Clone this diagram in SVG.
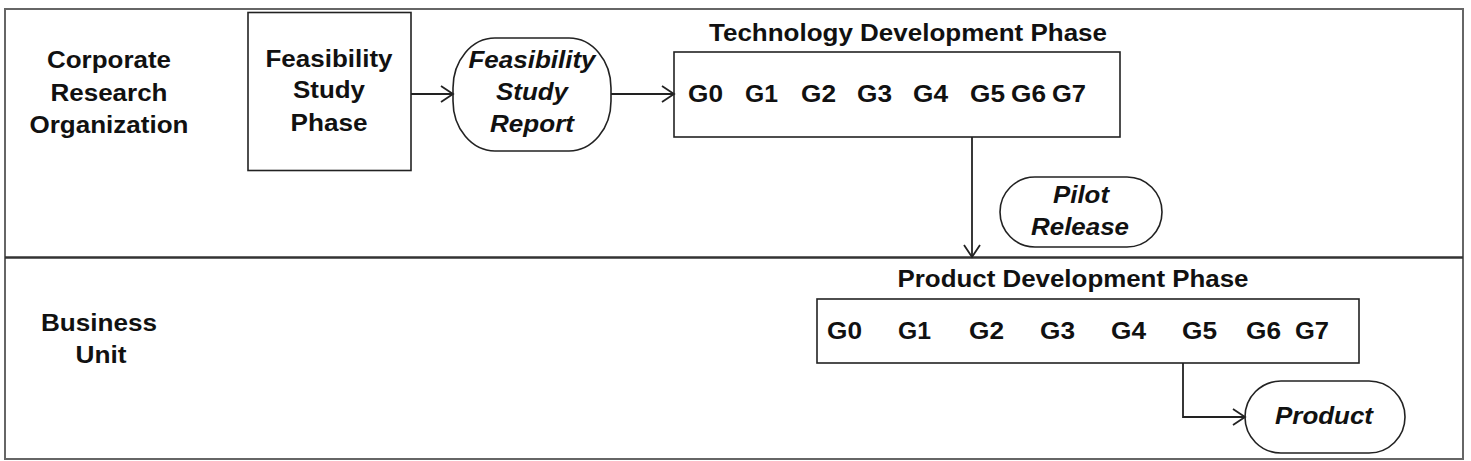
<svg xmlns="http://www.w3.org/2000/svg" width="1471" height="461" viewBox="0 0 1471 461">
<style>
.t{font-family:"Liberation Sans",Arial,sans-serif;font-weight:bold;font-size:23px;fill:#111;}
.i{font-style:italic;}
.box{fill:#fff;stroke:#222;stroke-width:1.6;}
.conn{fill:none;stroke:#222;stroke-width:1.8;}
</style>
<defs>
<marker id="arr" markerWidth="16" markerHeight="18" refX="14" refY="9" orient="auto" markerUnits="userSpaceOnUse">
<path d="M2,1 L14,9 L2,17" fill="none" stroke="#222" stroke-width="1.8"/>
</marker>
</defs>
<rect x="0" y="0" width="1471" height="461" fill="#fff"/>
<g id="lanes">
<rect x="5" y="9" width="1458" height="450" fill="none" stroke="#666" stroke-width="2"/>
<line x1="5" y1="257.5" x2="1463" y2="257.5" stroke="#333" stroke-width="2.5"/>
</g>
<g id="lane-corporate">
<text class="t" x="109" y="68" text-anchor="middle" textLength="124" lengthAdjust="spacingAndGlyphs">Corporate</text>
<text class="t" x="109" y="101" text-anchor="middle" textLength="117" lengthAdjust="spacingAndGlyphs">Research</text>
<text class="t" x="109" y="133" text-anchor="middle" textLength="159" lengthAdjust="spacingAndGlyphs">Organization</text>
</g>
<g id="lane-business">
<text class="t" x="99" y="331" text-anchor="middle" textLength="116" lengthAdjust="spacingAndGlyphs">Business</text>
<text class="t" x="101" y="363" text-anchor="middle" textLength="51" lengthAdjust="spacingAndGlyphs">Unit</text>
</g>
<g id="feasibility-phase">
<rect class="box" x="248" y="12.5" width="163" height="158"/>
<text class="t" x="329" y="67" text-anchor="middle" textLength="127" lengthAdjust="spacingAndGlyphs">Feasibility</text>
<text class="t" x="329" y="98" text-anchor="middle" textLength="72" lengthAdjust="spacingAndGlyphs">Study</text>
<text class="t" x="329" y="131" text-anchor="middle" textLength="77" lengthAdjust="spacingAndGlyphs">Phase</text>
</g>
<g id="feasibility-report">
<rect class="box" x="453" y="38" width="158" height="113" rx="42" ry="50"/>
<text class="t i" x="532" y="68" text-anchor="middle" textLength="127" lengthAdjust="spacingAndGlyphs">Feasibility</text>
<text class="t i" x="532" y="100" text-anchor="middle" textLength="72" lengthAdjust="spacingAndGlyphs">Study</text>
<text class="t i" x="532" y="132" text-anchor="middle" textLength="84" lengthAdjust="spacingAndGlyphs">Report</text>
</g>
<g id="tech-phase">
<text class="t" x="908" y="41" text-anchor="middle" textLength="398" lengthAdjust="spacingAndGlyphs">Technology Development Phase</text>
<rect class="box" x="674" y="52" width="446" height="85"/>
<text class="t" x="688" y="102" textLength="35" lengthAdjust="spacingAndGlyphs">G0</text>
<text class="t" x="745" y="102" textLength="33" lengthAdjust="spacingAndGlyphs">G1</text>
<text class="t" x="801" y="102" textLength="35" lengthAdjust="spacingAndGlyphs">G2</text>
<text class="t" x="857" y="102" textLength="35" lengthAdjust="spacingAndGlyphs">G3</text>
<text class="t" x="913" y="102" textLength="35" lengthAdjust="spacingAndGlyphs">G4</text>
<text class="t" x="970" y="102" textLength="35" lengthAdjust="spacingAndGlyphs">G5</text>
<text class="t" x="1011" y="102" textLength="35" lengthAdjust="spacingAndGlyphs">G6</text>
<text class="t" x="1052" y="102" textLength="34" lengthAdjust="spacingAndGlyphs">G7</text>
</g>
<g id="pilot-release">
<rect class="box" x="1000" y="177" width="162" height="70" rx="35" ry="35"/>
<text class="t i" x="1081" y="203" text-anchor="middle" textLength="56" lengthAdjust="spacingAndGlyphs">Pilot</text>
<text class="t i" x="1080" y="235" text-anchor="middle" textLength="98" lengthAdjust="spacingAndGlyphs">Release</text>
</g>
<g id="product-phase">
<text class="t" x="1073" y="287" text-anchor="middle" textLength="351" lengthAdjust="spacingAndGlyphs">Product Development Phase</text>
<rect class="box" x="817" y="299" width="542" height="64"/>
<text class="t" x="827" y="339" textLength="35" lengthAdjust="spacingAndGlyphs">G0</text>
<text class="t" x="898" y="339" textLength="33" lengthAdjust="spacingAndGlyphs">G1</text>
<text class="t" x="969" y="339" textLength="35" lengthAdjust="spacingAndGlyphs">G2</text>
<text class="t" x="1040" y="339" textLength="35" lengthAdjust="spacingAndGlyphs">G3</text>
<text class="t" x="1111" y="339" textLength="35" lengthAdjust="spacingAndGlyphs">G4</text>
<text class="t" x="1182" y="339" textLength="35" lengthAdjust="spacingAndGlyphs">G5</text>
<text class="t" x="1246" y="339" textLength="35" lengthAdjust="spacingAndGlyphs">G6</text>
<text class="t" x="1295" y="339" textLength="34" lengthAdjust="spacingAndGlyphs">G7</text>
</g>
<g id="product">
<rect class="box" x="1245" y="381" width="160" height="72" rx="36" ry="36"/>
<text class="t i" x="1324" y="424" text-anchor="middle" textLength="98" lengthAdjust="spacingAndGlyphs">Product</text>
</g>
<g id="connectors">
<line class="conn" x1="411" y1="94" x2="453" y2="94" marker-end="url(#arr)"/>
<line class="conn" x1="611" y1="94" x2="674" y2="94" marker-end="url(#arr)"/>
<line class="conn" x1="972" y1="137" x2="972" y2="257" marker-end="url(#arr)"/>
<path class="conn" d="M1183,363 L1183,417 L1245,417" marker-end="url(#arr)"/>
</g>
</svg>
